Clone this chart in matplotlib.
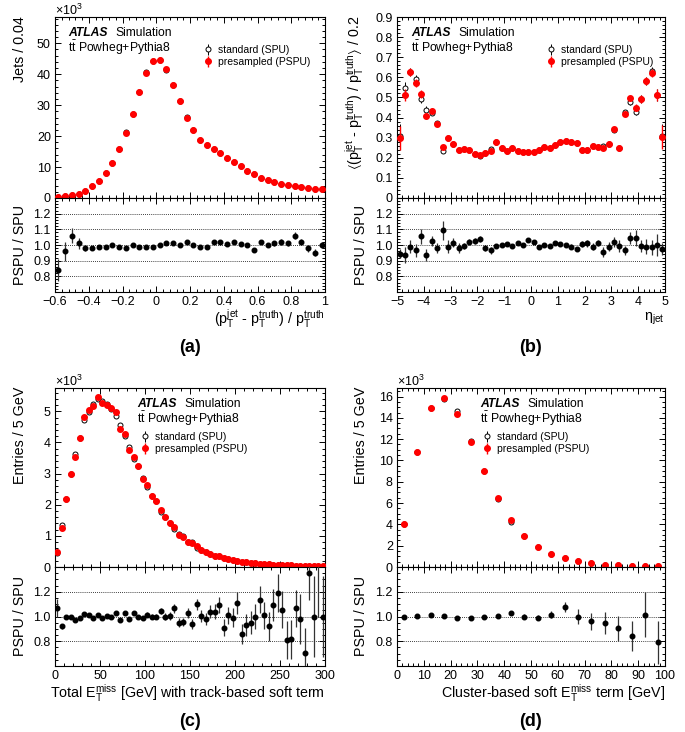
import numpy as np
import matplotlib.pyplot as plt
from matplotlib.ticker import MultipleLocator, FuncFormatter

plt.rcParams['font.family'] = ['Liberation Sans', 'DejaVu Sans']
plt.rcParams['mathtext.fontset'] = 'custom'
plt.rcParams['mathtext.rm'] = 'Liberation Sans'
plt.rcParams['mathtext.it'] = 'Liberation Sans:italic'
plt.rcParams['mathtext.bf'] = 'Liberation Sans:bold'
plt.rcParams['mathtext.default'] = 'regular'

# ---- (a) jet pT response, 40 bins from -0.6 to 1.0 (x10^3 jets)
A_RANGE = (-0.6, 1.0, 40)
A_PSPU = [0.3, 0.7, 1.1, 1.4, 2.4, 3.9, 5.6, 8.2, 11.3, 15.7, 20.9, 27.0, 34.2, 40.5, 44.3, 44.7,
          41.7, 36.6, 31.3, 26.0, 21.9, 18.9, 17.2, 15.9, 14.6, 13.0, 11.6, 10.2, 8.7, 7.8, 6.6, 5.8,
          5.3, 4.5, 4.3, 3.9, 3.5, 3.3, 3.0, 2.8]
A_SPU = [0.35, 0.75, 1.1, 1.4, 2.4, 3.9, 5.6, 8.2, 11.3, 15.8, 21.2, 27.0, 34.3, 40.6, 44.4, 44.6,
         41.5, 36.5, 31.2, 26.2, 21.9, 18.8, 17.2, 15.9, 14.6, 13.0, 11.6, 10.2, 8.7, 7.8, 6.6, 5.8,
         5.3, 4.5, 4.3, 3.9, 3.5, 3.3, 3.0, 2.8]
A_RATIO = [0.84, 0.96, 1.06, 1.01, 0.98, 0.98, 0.99, 0.985, 1.00, 0.985, 0.98, 1.00, 0.99, 0.99, 0.99,
           1.00, 1.01, 1.01, 1.00, 1.02, 1.00, 0.99, 0.99, 1.02, 1.02, 1.005, 1.02, 1.005, 1.00, 0.97,
           1.02, 1.00, 1.01, 1.02, 1.01, 1.06, 1.02, 0.98, 0.95, 1.00]
A_RERR = [0.07, 0.06, 0.05, 0.035, 0.02, 0.015, 0.01, 0.01, 0.008, 0.007, 0.006, 0.005, 0.005, 0.005,
          0.005, 0.005, 0.005, 0.005, 0.006, 0.006, 0.007, 0.007, 0.008, 0.008, 0.009, 0.01, 0.01,
          0.011, 0.012, 0.013, 0.014, 0.015, 0.016, 0.017, 0.018, 0.02, 0.02, 0.022, 0.022, 0.022]

# ---- (b) mean response vs eta, 50 bins from -5 to 5
B_RANGE = (-5.0, 5.0, 50)
B_PSPU = [0.30, 0.51, 0.625, 0.57, 0.515, 0.41, 0.435, 0.37, 0.255, 0.30, 0.27, 0.24, 0.245, 0.24,
          0.22, 0.215, 0.225, 0.235, 0.28, 0.25, 0.235, 0.25, 0.235, 0.23, 0.228, 0.228, 0.24, 0.255,
          0.25, 0.262, 0.28, 0.285, 0.277, 0.273, 0.24, 0.24, 0.258, 0.255, 0.25, 0.27, 0.345, 0.25,
          0.42, 0.495, 0.45, 0.49, 0.58, 0.62, 0.51, 0.305]
B_SPU = [0.31, 0.545, 0.625, 0.59, 0.49, 0.44, 0.425, 0.375, 0.235, 0.30, 0.27, 0.24, 0.245, 0.24,
         0.22, 0.21, 0.225, 0.245, 0.28, 0.25, 0.235, 0.25, 0.235, 0.23, 0.228, 0.228, 0.24, 0.255,
         0.25, 0.262, 0.28, 0.285, 0.277, 0.273, 0.24, 0.24, 0.258, 0.255, 0.26, 0.27, 0.34, 0.25,
         0.43, 0.475, 0.43, 0.49, 0.58, 0.63, 0.51, 0.31]
B_ERR = [0.06, 0.03, 0.02, 0.02, 0.02, 0.015, 0.012, 0.01, 0.01, 0.008, 0.006, 0.006, 0.006, 0.006,
         0.006, 0.006, 0.006, 0.006, 0.006, 0.006, 0.006, 0.006, 0.006, 0.006, 0.006, 0.006, 0.006,
         0.006, 0.006, 0.006, 0.006, 0.006, 0.006, 0.006, 0.006, 0.006, 0.006, 0.006, 0.006, 0.006,
         0.008, 0.01, 0.01, 0.012, 0.015, 0.02, 0.02, 0.02, 0.03, 0.06]
B_RATIO = [0.945, 0.935, 0.99, 0.965, 1.055, 0.935, 1.025, 0.98, 1.095, 0.99, 1.015, 0.98, 0.995,
           1.02, 1.025, 1.04, 0.98, 0.965, 0.995, 1.00, 1.005, 0.995, 1.015, 0.998, 1.03, 1.02, 0.99,
           1.00, 0.995, 1.01, 1.005, 1.00, 0.99, 0.975, 1.005, 1.01, 0.99, 1.015, 0.955, 0.99, 1.02,
           0.995, 0.965, 1.045, 1.045, 0.995, 0.99, 0.985, 1.00, 0.975]
B_RERR = [0.03, 0.05, 0.04, 0.04, 0.05, 0.04, 0.03, 0.03, 0.06, 0.04, 0.03, 0.03, 0.02, 0.02, 0.02,
          0.02, 0.02, 0.02, 0.012, 0.012, 0.012, 0.012, 0.012, 0.012, 0.012, 0.012, 0.012, 0.012,
          0.012, 0.012, 0.012, 0.012, 0.015, 0.015, 0.02, 0.02, 0.02, 0.02, 0.03, 0.03, 0.03, 0.04,
          0.03, 0.04, 0.05, 0.04, 0.05, 0.05, 0.07, 0.04]

# ---- (c) total MET (track soft term), 60 bins 0-300 GeV (x10^3 entries)
C_RANGE = (0.0, 300.0, 60)
C_PSPU = [0.47, 1.25, 2.18, 2.98, 3.53, 4.13, 4.82, 5.03, 5.16, 5.46, 5.28, 5.21, 5.11, 4.98, 4.44,
          4.28, 3.77, 3.54, 3.24, 2.83, 2.62, 2.29, 2.11, 1.82, 1.61, 1.42, 1.30, 1.03, 0.95, 0.81,
          0.78, 0.67, 0.56, 0.48, 0.42, 0.36, 0.34, 0.29, 0.25, 0.21, 0.20, 0.17, 0.15, 0.14, 0.12,
          0.11, 0.10, 0.09, 0.08, 0.07, 0.065, 0.055, 0.05, 0.045, 0.04, 0.035, 0.03, 0.028, 0.025, 0.022]
C_SPU = [0.45, 1.36, 2.18, 2.98, 3.63, 4.15, 4.73, 4.97, 5.25, 5.39, 5.32, 5.22, 5.07, 4.84, 4.57,
         4.21, 3.84, 3.46, 3.24, 2.87, 2.58, 2.29, 2.11, 1.76, 1.61, 1.42, 1.22, 1.07, 1.00, 0.81,
         0.80, 0.62, 0.56, 0.48, 0.42, 0.36, 0.34, 0.29, 0.25, 0.21, 0.20, 0.17, 0.15, 0.14, 0.12,
         0.11, 0.10, 0.09, 0.08, 0.07, 0.065, 0.055, 0.05, 0.045, 0.04, 0.035, 0.03, 0.028, 0.025, 0.022]
C_RATIO = [1.07, 0.92, 1.00, 0.995, 0.975, 0.99, 1.02, 1.015, 0.985, 1.015, 0.99, 1.005, 0.995, 1.03,
           0.97, 1.025, 0.98, 1.025, 1.00, 0.985, 1.015, 1.00, 1.00, 1.045, 1.00, 1.005, 1.065, 0.95,
           0.955, 1.03, 0.94, 1.10, 1.005, 0.98, 1.04, 1.04, 1.095, 0.91, 1.01, 0.99, 1.11, 0.86, 0.93,
           0.95, 1.00, 1.135, 1.01, 0.92, 1.09, 1.19, 1.055, 0.81, 0.815, 1.065, 0.98, 0.705, 1.35,
           1.00, 1.6, 1.00]
C_RERR = [0.07, 0.02, 0.015, 0.012, 0.01, 0.01, 0.01, 0.01, 0.01, 0.01, 0.01, 0.01, 0.01, 0.012, 0.012,
          0.013, 0.014, 0.015, 0.016, 0.017, 0.018, 0.02, 0.02, 0.025, 0.03, 0.03, 0.035, 0.035, 0.035,
          0.04, 0.04, 0.045, 0.05, 0.05, 0.055, 0.06, 0.065, 0.07, 0.07, 0.075, 0.09, 0.08, 0.09, 0.095,
          0.1, 0.11, 0.11, 0.12, 0.13, 0.15, 0.15, 0.15, 0.16, 0.15, 0.2, 0.2, 0.22, 0.33, 0.6, 0.33]

# ---- (d) cluster-based soft term, 20 bins 0-100 GeV (x10^3 entries)
D_RANGE = (0.0, 100.0, 20)
D_PSPU = [4.03, 10.84, 14.9, 15.84, 14.4, 11.69, 9.03, 6.44, 4.38, 2.94, 1.91, 1.25, 0.84, 0.53,
          0.34, 0.22, 0.17, 0.12, 0.07, 0.05]
D_SPU = [4.03, 10.8, 14.95, 15.8, 14.66, 11.84, 9.03, 6.42, 4.25, 2.93, 1.9, 1.24, 0.8, 0.53,
         0.35, 0.23, 0.18, 0.14, 0.07, 0.06]
D_RATIO = [1.00, 1.005, 1.01, 1.005, 0.985, 0.99, 1.00, 1.005, 1.03, 1.00, 0.99, 1.015, 1.08, 1.00,
           0.96, 0.945, 0.905, 0.845, 1.015, 0.79]
D_RERR = [0.006, 0.005, 0.005, 0.005, 0.006, 0.007, 0.008, 0.01, 0.015, 0.02, 0.02, 0.03, 0.04, 0.06,
          0.07, 0.09, 0.1, 0.12, 0.18, 0.17]

W, H = 685, 732


def box(l, t, r, b):
    return [l / W, 1 - b / H, (r - l) / W, (b - t) / H]


def centres(rng):
    lo, hi, n = rng
    edges = np.linspace(lo, hi, n + 1)
    return 0.5 * (edges[:-1] + edges[1:])


def fmt_g(v, p):
    return f'{v:g}'.replace('-', '\u2212')


def fmt_1(v, p):
    return '0' if abs(v) < 1e-9 else f'{v:.1f}'


panels = [
    dict(x=centres(A_RANGE), spu=A_SPU, pspu=A_PSPU, err=0, ratio=A_RATIO, rerr=A_RERR,
         cols=(55, 325), rows=(17, 198, 292), xlim=A_RANGE[:2], ylim=(0, 58.5),
         xmaj=0.2, xmin=0.04, ymaj=10, ymin=2, yfmt=fmt_g, x1e3=True,
         rlim=(0.7, 1.3), rticks=[0.8, 0.9, 1.0, 1.1, 1.2], rmin=0.02,
         ylabel='Jets / 0.04', ylx=20,
         xlabel=r'(p$_{T}^{jet}$ - p$_{T}^{truth}$) / p$_{T}^{truth}$',
         atlas=(13, 16), leg=(149, 28), tag='(a)', tagpos=(190, 348)),
    dict(x=centres(B_RANGE), spu=B_SPU, pspu=B_PSPU, err=B_ERR, ratio=B_RATIO, rerr=B_RERR,
         cols=(397, 665), rows=(17, 198, 292), xlim=B_RANGE[:2], ylim=(0, 0.9),
         xmaj=1, xmin=0.2, ymaj=0.1, ymin=0.02, yfmt=fmt_1, x1e3=False,
         rlim=(0.7, 1.3), rticks=[0.8, 0.9, 1.0, 1.1, 1.2], rmin=0.02,
         ylabel=r'$\langle$(p$_{T}^{jet}$ - p$_{T}^{truth}$) / p$_{T}^{truth}$$\rangle$ / 0.2', ylx=355,
         xlabel=r'$\eta_{jet}$',
         atlas=(14, 16), leg=(150, 28), tag='(b)', tagpos=(530, 348)),
    dict(x=centres(C_RANGE), spu=C_SPU, pspu=C_PSPU, err=0, ratio=C_RATIO, rerr=C_RERR,
         cols=(55, 325), rows=(388, 567, 666), xlim=C_RANGE[:2], ylim=(0, 5.75),
         xmaj=50, xmin=10, ymaj=1, ymin=0.2, yfmt=fmt_g, x1e3=True,
         rlim=(0.6, 1.4), rticks=[0.8, 1.0, 1.2], rmin=0.05,
         ylabel='Entries / 5 GeV', ylx=20,
         xlabel=r'Total E$_{T}^{miss}$ [GeV] with track-based soft term',
         atlas=(82, 16), leg=(86, 44), tag='(c)', tagpos=(190, 721)),
    dict(x=centres(D_RANGE), spu=D_SPU, pspu=D_PSPU, err=0, ratio=D_RATIO, rerr=D_RERR,
         cols=(397, 665), rows=(388, 567, 666), xlim=D_RANGE[:2], ylim=(0, 16.8),
         xmaj=10, xmin=2, ymaj=2, ymin=0.5, yfmt=fmt_g, x1e3=True,
         rlim=(0.6, 1.4), rticks=[0.8, 1.0, 1.2], rmin=0.05,
         ylabel='Entries / 5 GeV', ylx=361,
         xlabel=r'Cluster-based soft E$_{T}^{miss}$ term [GeV]',
         atlas=(83, 16), leg=(86, 44), tag='(d)', tagpos=(530, 721)),
]

fig = plt.figure(figsize=(W / 100, H / 100), dpi=100)


def style(ax):
    ax.tick_params(which='both', direction='in', top=True, right=True, labelsize=9, width=0.7, pad=3)
    ax.tick_params(which='major', length=4.5)
    ax.tick_params(which='minor', length=2.3)
    for s in ax.spines.values():
        s.set_linewidth(0.8)


for p in panels:
    l, r = p['cols']
    t, m, b = p['rows']
    ax = fig.add_axes(box(l, t, r, m))
    rx = fig.add_axes(box(l, m, r, b), sharex=ax)

    ax.errorbar(p['x'], p['spu'], yerr=p['err'], fmt='o', mfc='white', mec='black', mew=0.7,
                ms=3.6, ecolor='black', elinewidth=0.7, capsize=0, label='standard (SPU)', zorder=2)
    ax.errorbar(p['x'], p['pspu'], yerr=p['err'], fmt='o', color='#ff0000', ms=4.0,
                elinewidth=1.0, capsize=0, label='presampled (PSPU)', zorder=3)
    ax.set_xlim(*p['xlim'])
    ax.set_ylim(*p['ylim'])
    ax.xaxis.set_major_locator(MultipleLocator(p['xmaj']))
    ax.xaxis.set_minor_locator(MultipleLocator(p['xmin']))
    ax.yaxis.set_major_locator(MultipleLocator(p['ymaj']))
    ax.yaxis.set_minor_locator(MultipleLocator(p['ymin']))
    ax.yaxis.set_major_formatter(FuncFormatter(p['yfmt']))
    style(ax)
    ax.tick_params(labelbottom=False)

    w_ax, h_ax = r - l, m - t
    lx, ly = p['leg']
    ax.legend(loc='upper left', bbox_to_anchor=(lx / w_ax, 1 - ly / h_ax), frameon=False,
              fontsize=7.5, handlelength=0.8, handletextpad=0.5, borderpad=0, borderaxespad=0,
              labelspacing=0.2)

    axx, axy = p['atlas']
    fig.text((l + axx) / W, 1 - (t + axy) / H, 'ATLAS', fontsize=8.7, fontweight='bold',
             fontstyle='italic', va='center')
    fig.text((l + axx + 47) / W, 1 - (t + axy) / H, 'Simulation', fontsize=8.7, va='center')
    fig.text((l + axx) / W, 1 - (t + axy + 15) / H, r't$\bar{t}$ Powheg+Pythia8', fontsize=8.7,
             va='center')

    if p['x1e3']:
        fig.text(l / W, 1 - (t - 2) / H, r'$\times$10$^{3}$', fontsize=9, va='baseline')

    # ratio panel
    for g in p['rticks']:
        rx.axhline(g, color='black', lw=0.6, ls=(0, (1, 1.5)), zorder=1)
    rx.errorbar(p['x'], p['ratio'], yerr=p['rerr'], fmt='o', color='black', ms=3.3,
                ecolor='#333333', elinewidth=0.9, capsize=0, zorder=3)
    rx.set_ylim(*p['rlim'])
    rx.set_yticks(p['rticks'])
    rx.yaxis.set_minor_locator(MultipleLocator(p['rmin']))
    rx.yaxis.set_major_formatter(FuncFormatter(lambda v, q: f'{v:.1f}'))
    rx.xaxis.set_major_formatter(FuncFormatter(fmt_g))
    style(rx)

    # axis titles
    ycx = p['ylx']
    fig.text(ycx / W, 1 - (t - 1) / H, p['ylabel'], rotation=90, fontsize=10.3, ha='center',
             va='top')
    rcx = 20 if l < 200 else 361
    fig.text(rcx / W, 1 - (m + b) / 2 / H, 'PSPU / SPU', rotation=90, fontsize=10.3,
             ha='center', va='center')
    fig.text(r / W, 1 - (b + 27) / H, p['xlabel'], fontsize=10.3, ha='right', va='center')
    fig.text(p['tagpos'][0] / W, 1 - p['tagpos'][1] / H, p['tag'], fontsize=13, fontweight='bold',
             ha='center', va='center')

fig.savefig('out.png', dpi=100)
